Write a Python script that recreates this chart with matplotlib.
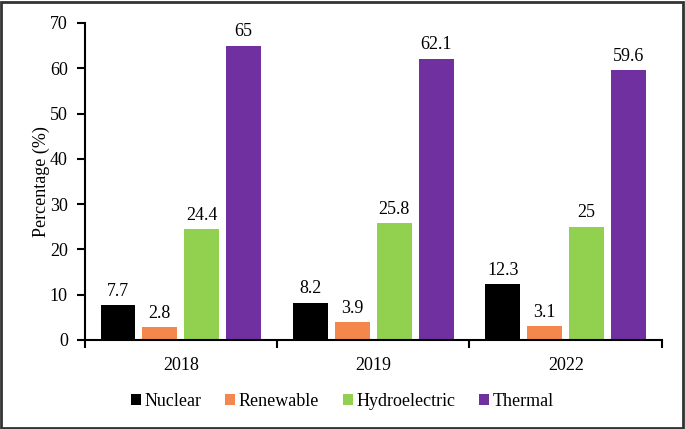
import matplotlib
matplotlib.use("Agg")
import matplotlib.pyplot as plt
from matplotlib.patches import Rectangle
import numpy as np

plt.rcParams['font.family'] = ['Liberation Serif', 'DejaVu Serif']

years = ["2018", "2019", "2022"]
series_names = ["Nuclear", "Renewable", "Hydroelectric", "Thermal"]
nuclear = [7.7, 8.2, 12.3]
renewable = [2.8, 3.9, 3.1]
hydro = [24.4, 25.8, 25]
thermal = [65, 62.1, 59.6]
labels_txt = [["7.7", "8.2", "12.3"], ["2.8", "3.9", "3.1"], ["24.4", "25.8", "25"], ["65", "62.1", "59.6"]]
colors = ["#000000", "#F4874B", "#92D050", "#7030A0"]

fig = plt.figure(figsize=(6.85, 4.29), dpi=100)
ax = fig.add_axes([0.1234, 0.2075, 0.843, 0.739])

x = np.arange(len(years))
step = 0.218
width = 0.18
for i, (vals, c, name) in enumerate(zip([nuclear, renewable, hydro, thermal], colors, series_names)):
    pos = x + (i - 1.5) * step
    ax.bar(pos, vals, width=width, color=c, label=name)
    for p, v, t in zip(pos, vals, labels_txt[i]):
        ax.text(p, v + 1.2, t, ha='center', va='bottom', fontsize=13)

ax.set_xlim(-0.5, 2.5)
ax.set_ylim(0, 70)
ax.set_yticks(range(0, 71, 10))
ax.set_xticks([-0.5, 0.5, 1.5, 2.5])
ax.set_xticklabels([])
ax.set_xticks(x, minor=True)
ax.set_xticklabels(years, minor=True)
ax.tick_params(axis='x', which='minor', length=0, pad=12, labelsize=13)
ax.tick_params(axis='x', which='major', length=6, width=1.5, direction='out')
ax.tick_params(axis='y', length=6, width=1.5, direction='out', labelsize=13, pad=6)
for s in ['top', 'right']:
    ax.spines[s].set_visible(False)
for s in ['left', 'bottom']:
    ax.spines[s].set_linewidth(1.5)
ax.set_ylabel("Percentage (%)", fontsize=13, labelpad=0)

leg = fig.legend(loc='center', bbox_to_anchor=(0.5, 0.065), ncol=4, frameon=False,
                 fontsize=13, handlelength=0.55, handleheight=0.55, handletextpad=0.2,
                 columnspacing=1.3)

fig.patches.append(Rectangle((0.002, 0.003), 0.995, 0.993, transform=fig.transFigure,
                             fill=False, edgecolor='#333333', linewidth=2))

fig.savefig("out.png", dpi=100)
